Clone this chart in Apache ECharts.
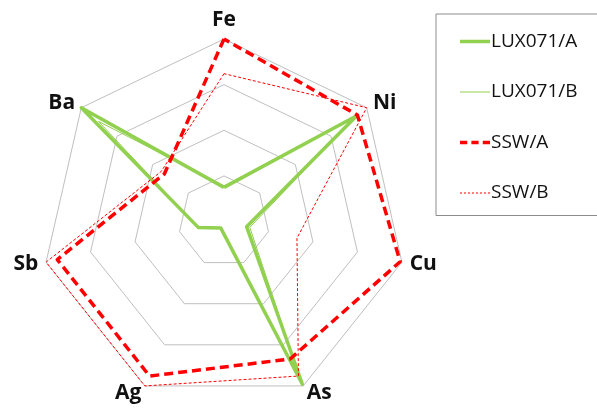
<!DOCTYPE html>
<html>
<head>
<meta charset="utf-8">
<script src="https://cdn.jsdelivr.net/npm/echarts@6/dist/echarts.min.js"></script>
<style>
  html, body { margin: 0; padding: 0; background: #fff; }
  #chart { width: 597px; height: 409px; }
</style>
</head>
<body>
<div id="chart"></div>
<script>
// Element axes, listed counter-clockwise starting from the top
const elements = ['Fe', 'Ba', 'Sb', 'Ag', 'As', 'Cu', 'Ni'];

// Relative concentration per element (0-100), same order as elements
const lux071A = [18.7, 100, 14.5, 4, 99, 12.7, 93];
const lux071B = [19.5, 88, 14.5, 4, 97, 14.5, 92];
const sswA    = [100, 41.8, 93.7, 94, 83.6, 99, 93.5];
const sswB    = [81, 44, 100, 100, 94, 41, 100];

const seriesNames = ['LUX071/A', 'LUX071/B', 'SSW/A', 'SSW/B'];

const GREEN = '#92D050';
const RED = '#FF0000';

const chart = echarts.init(document.getElementById('chart'), null, { renderer: 'canvas' });

const styles = [
  { color: GREEN, width: 3.5, type: 'solid' },
  { color: GREEN, width: 1, type: 'solid' },
  { color: RED, width: 3.5, type: [9, 5] },
  { color: RED, width: 1, type: [3, 2] }
];
const values = [lux071A, lux071B, sswA, sswB];

const legendIcons = [
  'path://M0,0H30V3.5H0Z',
  'path://M0,0H30V1H0Z',
  'path://M0,0H7V3.5H0Z M11,0H18V3.5H11Z M22,0H29V3.5H22Z',
  'path://M0,0H2V1H0Z M4,0H6V1H4Z M8,0H10V1H8Z M12,0H14V1H12Z M16,0H18V1H16Z M20,0H22V1H20Z M24,0H26V1H24Z M28,0H30V1H28Z'
];

chart.setOption({
  animation: false,
  backgroundColor: '#fff',
  legend: {
    orient: 'vertical',
    left: 436,
    top: 14,
    padding: [18, 40, 13, 24],
    itemGap: 31.5,
    itemWidth: 30,
    itemHeight: 14,
    borderColor: '#8c8c8c',
    borderWidth: 1,
    selectedMode: false,
    textStyle: { fontFamily: 'Open Sans', fontSize: 19, color: '#111', padding: [0, 0, 0, -4] },
    data: seriesNames.map((n, i) => ({
      name: n,
      icon: legendIcons[i],
      itemStyle: { color: styles[i].color }
    }))
  },
  radar: {
    center: [224, 221.5],
    radius: 182.5,
    startAngle: 90,
    shape: 'polygon',
    splitNumber: 4,
    indicator: elements.map(e => ({ name: e, min: 0, max: 100 })),
    axisName: {
      color: '#111',
      fontFamily: 'Open Sans',
      fontWeight: 'bold',
      fontSize: 21
    },
    axisNameGap: 8,
    axisLine: { show: false },
    splitArea: { show: false },
    splitLine: { lineStyle: { color: '#bfbfbf', width: 1 } },
    axisTick: { show: false },
    axisLabel: { show: false }
  },
  series: seriesNames.map((n, i) => ({
    type: 'radar',
    name: n,
    symbol: 'none',
    z: 2 + i,
    lineStyle: { color: styles[i].color, width: styles[i].width, type: styles[i].type },
    itemStyle: { color: styles[i].color },
    data: [{ name: n, value: values[i] }]
  }))
});
</script>
</body>
</html>
